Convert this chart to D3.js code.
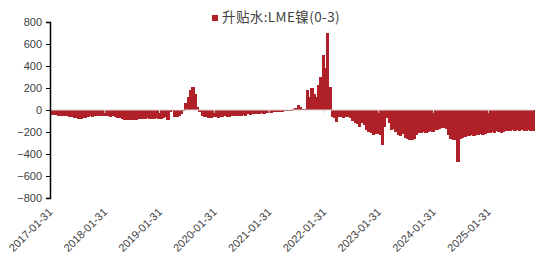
<!DOCTYPE html>
<html>
<head>
<meta charset="utf-8">
<script src="https://cdn.jsdelivr.net/npm/d3@7"></script>
<style>
  body { margin: 0; background: #fff; }
  svg text { font-family: "Liberation Sans", Arial, sans-serif; fill: #404040; }
  .legend text { font-family: "Noto Sans CJK SC", sans-serif; }
</style>
</head>
<body>
<div id="chart"></div>
<script>
var width = 550, height = 256;
var margin = {top: 22, right: 16, bottom: 58, left: 50};

var seriesName = "升贴水:LME镍(0-3)";
var yTicks = [-800, -600, -400, -200, 0, 200, 400, 600, 800];
var xTickLabels = ["2017-01-31", "2018-01-31", "2019-01-31", "2020-01-31", "2021-01-31",
                   "2022-01-31", "2023-01-31", "2024-01-31", "2025-01-31"];

// half-month values (1st and 16th of each month), Feb 2017 .. Nov 2025
var v2017 = [-45, -42, -48, -50, -50, -55, -52, -58, -60, -65, -70, -75, -80, -85, -75, -70, -60, -55, -60, -58, -55, -50];
var v2018 = [-50, -55, -52, -58, -60, -55, -65, -70, -75, -85, -90, -95, -95, -90, -88, -92, -85, -80, -85, -80, -75, -80, -82, -78];
var v2019 = [-70, -80, -85, -75, -65, -90, -20, -5, -60, -65, -55, -40, -10, 60, 120, 180, 210, 150, 30, -20, -50, -60, -65, -70];
var v2020 = [-70, -65, -60, -70, -65, -60, -55, -60, -60, -55, -55, -50, -55, -50, -45, -50, -40, -45, -38, -35, -40, -35, -30, -32];
var v2021 = [-28, -25, -30, -22, -20, -18, -15, -20, -12, -10, -8, -5, 5, 20, 45, 30, 10, 5, 180, 120, 200, 150, 120, 230];
var v2022 = [300, 500, 380, 700, 210, -60, -70, -110, -60, -65, -70, -60, -65, -70, -100, -120, -130, -150, -120, -140, -180, -200, -210, -230];
var v2023 = [-220, -215, -230, -320, -150, -75, -120, -180, -170, -200, -230, -240, -220, -250, -260, -270, -275, -265, -230, -210, -205, -200, -210, -200];
var v2024 = [-195, -200, -185, -180, -175, -165, -160, -175, -230, -260, -270, -275, -470, -260, -250, -245, -240, -235, -230, -235, -225, -230, -220, -225];
var v2025 = [-215, -210, -205, -200, -205, -195, -200, -205, -200, -195, -190, -195, -185, -190, -180, -190, -185, -190, -190, -185, -190, -195];

var values = [].concat(v2017, v2018, v2019, v2020, v2021, v2022, v2023, v2024, v2025);

// dates for each half-month bar
var months = d3.timeMonth.range(new Date(2017, 1, 1), new Date(2025, 11, 1));
var dates = [];
months.forEach(function (m) {
    dates.push(m);
    dates.push(new Date(m.getFullYear(), m.getMonth(), 16));
});
dates.push(new Date(2025, 11, 1));

var data = values.map(function (v, i) {
    return {start: dates[i], end: dates[i + 1], v: v};
});

var parse = d3.timeParse("%Y-%m-%d");
var tickDates = xTickLabels.map(parse);

var xScale = d3.scaleTime()
    .domain([parse("2017-01-31"), new Date(2025, 11, 1)])
    .range([margin.left, width - margin.right]);

var yScale = d3.scaleLinear()
    .domain([-800, 800])
    .range([height - margin.bottom, margin.top]);

var svg = d3.select("#chart").append("svg")
    .attr("width", width)
    .attr("height", height);

// bars (slightly overlapped so the series reads as a filled area)
svg.append("g")
    .attr("shape-rendering", "crispEdges")
    .selectAll("rect")
    .data(data)
    .enter().append("rect")
    .attr("x", function (d) { return xScale(d.start); })
    .attr("width", function (d) { return xScale(d.end) - xScale(d.start) + 1; })
    .attr("y", function (d) { return yScale(Math.max(0, d.v)); })
    .attr("height", function (d) { return Math.abs(yScale(d.v) - yScale(0)); })
    .attr("fill", "#af2029");

// zero line with small year ticks
svg.append("line")
    .attr("x1", margin.left)
    .attr("x2", width - margin.right)
    .attr("y1", yScale(0))
    .attr("y2", yScale(0))
    .attr("stroke", "#d9d9d9")
    .attr("stroke-width", 1);

svg.append("g")
    .selectAll("line")
    .data(tickDates.slice(1))
    .enter().append("line")
    .attr("x1", function (d) { return xScale(d); })
    .attr("x2", function (d) { return xScale(d); })
    .attr("y1", yScale(0))
    .attr("y2", yScale(0) + 3)
    .attr("stroke", "#d9d9d9");

// y axis
var yAxis = svg.append("g")
    .attr("transform", "translate(" + margin.left + ",0)")
    .call(d3.axisLeft(yScale).tickValues(yTicks).tickSize(4).tickPadding(4));
yAxis.select(".domain").attr("stroke", "#000").attr("stroke-width", 1.5);
yAxis.selectAll(".tick line").attr("stroke", "#000");
yAxis.selectAll("text").style("font-size", "11px");

// x labels (rotated)
var xAxis = svg.append("g")
    .attr("transform", "translate(0," + (yScale(-800) + 12) + ")")
    .call(d3.axisBottom(xScale).tickValues(tickDates).tickSize(0)
        .tickFormat(d3.timeFormat("%Y-%m-%d")));
xAxis.select(".domain").remove();
xAxis.selectAll("text")
    .style("font-size", "11px")
    .style("text-anchor", "end")
    .attr("y", 0)
    .attr("dx", "0")
    .attr("dy", "0.35em")
    .attr("transform", "rotate(-45)");

// legend
var legend = svg.append("g").attr("class", "legend");
legend.append("rect")
    .attr("x", 212)
    .attr("y", 15)
    .attr("width", 6)
    .attr("height", 6)
    .attr("fill", "#af2029");
legend.append("text")
    .attr("x", 222)
    .attr("y", 22)
    .style("font-size", "13.5px")
    .style("letter-spacing", "0.4px")
    .text(seriesName);
</script>
</body>
</html>
